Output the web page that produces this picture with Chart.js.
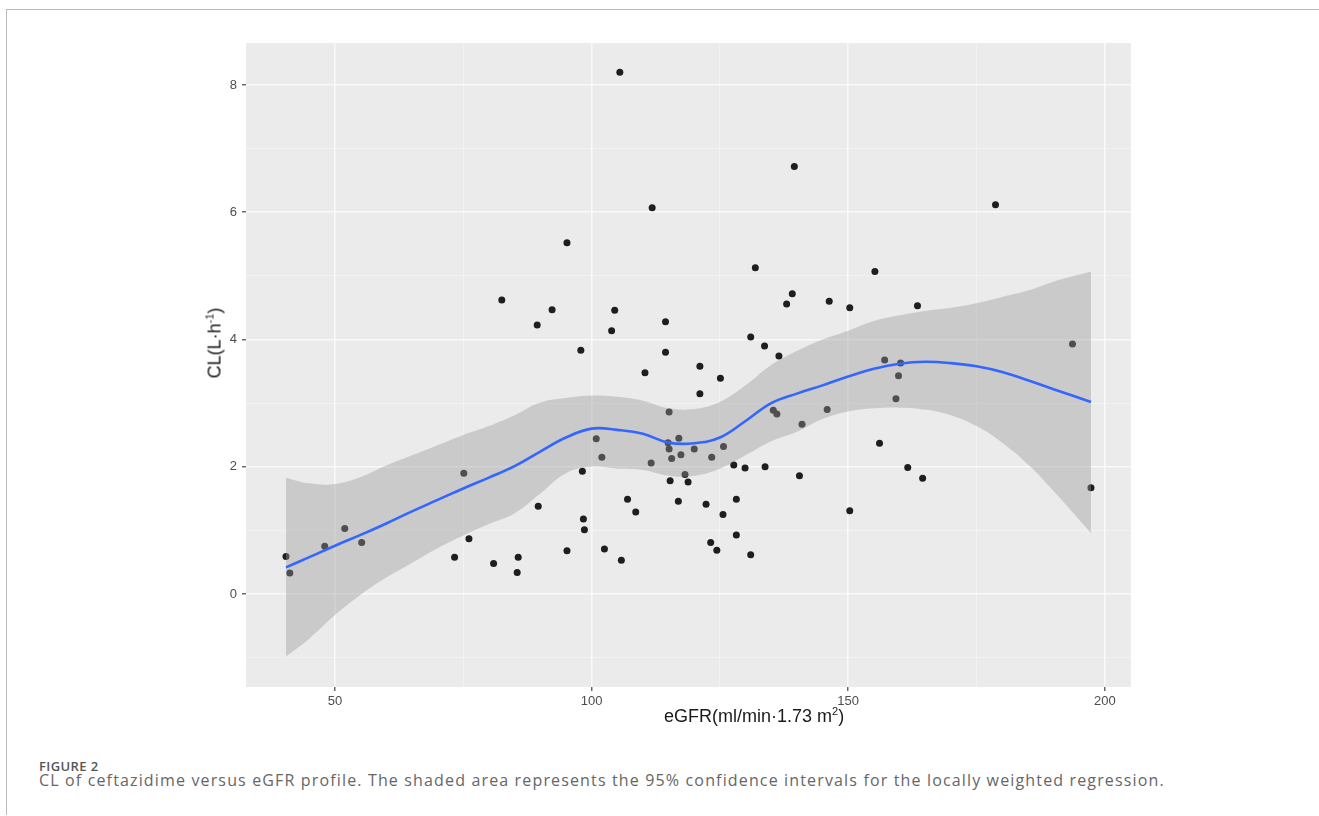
<!DOCTYPE html>
<html>
<head>
<meta charset="utf-8">
<script src="https://cdn.jsdelivr.net/npm/chart.js@4.4.1/dist/chart.umd.min.js"></script>
<style>
  body { margin: 0; background: #fff; width: 1319px; height: 816px; overflow: hidden; position: relative; }
  #frame { position: absolute; left: 6px; top: 9px; width: 1313px; height: 805px; border-top: 1px solid #bbb; border-left: 1px solid #bbb; }
  #wrap { position: absolute; left: 0; top: 0; }
  .axis-title { position: absolute; font-family: "Liberation Sans", Arial, sans-serif; font-size: 18px; color: #1a1a1a; white-space: nowrap; }
  #xtitle { left: 664px; top: 706px; }
  #ytitle { left: 215px; top: 343px; transform: translate(-50%, -50%) rotate(-90deg); }
  .axis-title sup { font-size: 11px; vertical-align: 7px; line-height: 0; }
  #figlabel { position: absolute; left: 39px; top: 757px; font-family: "Open Sans", sans-serif; font-weight: 600; font-size: 13px; letter-spacing: 0.4px; color: #555; }
  #caption { position: absolute; left: 39px; top: 769px; font-family: "Open Sans", sans-serif; font-size: 16px; letter-spacing: 1.15px; color: #666; white-space: nowrap; }
</style>
</head>
<body>
<div id="frame"></div>
<div id="wrap"><canvas id="my-chart" width="1319" height="740"></canvas></div>
<div class="axis-title" id="xtitle">eGFR(ml/min·1.73 m<sup>2</sup>)</div>
<div class="axis-title" id="ytitle">CL(L·h<sup>-1</sup>)</div>
<div id="figlabel">FIGURE 2</div>
<div id="caption">CL of ceftazidime versus eGFR profile. The shaded area represents the 95% confidence intervals for the locally weighted regression.</div>
<script>
// observed patients
const egfr = [40.45, 41.2, 48.0, 51.9, 55.2, 73.3, 75.1, 76.1, 80.9, 85.5, 85.7, 89.6,
  82.5, 89.4, 92.3, 95.2, 95.2, 97.9, 98.2, 98.4, 98.6, 100.9, 102.0, 102.5,
  103.9, 104.5, 105.5, 105.8, 107.0, 108.6, 110.4, 111.6, 111.8, 114.4, 114.4, 114.9,
  115.1, 115.1, 115.3, 115.6, 116.9, 117.0, 117.4, 118.2, 118.8, 120.0, 121.1, 121.1,
  122.3, 123.2, 123.4, 124.4, 125.1, 125.6, 125.7, 127.7, 128.2, 128.2, 129.9, 131.0,
  131.0, 131.9, 133.7, 133.8, 135.4, 136.1, 136.5, 138.0, 139.1, 139.5, 140.5, 141.0,
  145.9, 146.3, 150.3, 150.3, 155.2, 156.1, 157.1, 159.3, 159.8, 160.2, 161.6, 163.5,
  164.5, 178.7, 193.7, 197.3];
const clValues = [0.59, 0.33, 0.75, 1.03, 0.81, 0.58, 1.90, 0.87, 0.48, 0.34, 0.58, 1.38,
  4.62, 4.23, 4.47, 5.52, 0.68, 3.83, 1.93, 1.18, 1.01, 2.44, 2.15, 0.71,
  4.14, 4.46, 8.20, 0.53, 1.49, 1.29, 3.48, 2.06, 6.07, 4.28, 3.80, 2.38,
  2.86, 2.28, 1.78, 2.13, 1.46, 2.45, 2.19, 1.88, 1.76, 2.28, 3.58, 3.15,
  1.41, 0.81, 2.15, 0.69, 3.39, 1.25, 2.32, 2.03, 1.49, 0.93, 1.98, 4.04,
  0.62, 5.13, 3.90, 2.00, 2.89, 2.83, 3.74, 4.56, 4.72, 6.72, 1.86, 2.67,
  2.90, 4.60, 4.50, 1.31, 5.07, 2.37, 3.68, 3.07, 3.43, 3.63, 1.99, 4.53,
  1.82, 6.12, 3.93, 1.67];

// loess fit and 95% band
const fitX = [40.45, 45, 50, 55, 60, 65, 70, 75, 80, 85, 90, 95, 100, 105, 110, 115, 120,
  125, 130, 135, 140, 145, 150, 155, 160, 165, 170, 175, 180, 185, 190, 197.3];
const fitY = [0.42, 0.58, 0.76, 0.93, 1.11, 1.30, 1.48, 1.66, 1.83, 2.01, 2.24, 2.46, 2.60,
  2.58, 2.52, 2.38, 2.37, 2.46, 2.72, 3.00, 3.15, 3.28, 3.42, 3.54, 3.62, 3.65, 3.63, 3.58,
  3.49, 3.36, 3.22, 3.02];
const bandHi = [1.83, 1.74, 1.73, 1.84, 2.02, 2.18, 2.34, 2.50, 2.64, 2.81, 3.01, 3.08, 3.12,
  3.10, 3.04, 2.92, 2.91, 3.02, 3.28, 3.60, 3.82, 4.00, 4.14, 4.29, 4.38, 4.45, 4.50, 4.57,
  4.67, 4.77, 4.91, 5.07];
const bandLo = [-0.98, -0.70, -0.33, -0.01, 0.26, 0.49, 0.72, 0.92, 1.10, 1.27, 1.58, 1.90, 2.00,
  1.97, 1.95, 1.86, 1.86, 1.97, 2.18, 2.40, 2.55, 2.75, 2.87, 2.92, 2.93, 2.90, 2.81, 2.64,
  2.38, 2.04, 1.62, 0.96];

const xMajor = [50, 100, 150, 200];
const xMinor = [75, 125, 175];
const yMajor = [0, 2, 4, 6, 8];
const yMinor = [-1, 1, 3, 5, 7];

const toXY = (xs, ys) => xs.map((x, i) => ({ x: x, y: ys[i] }));
const isMajor = (list, v) => list.indexOf(v) !== -1;

// grey ggplot panel behind everything
const panelBg = {
  id: "panelBg",
  beforeDraw(chart) {
    const a = chart.chartArea;
    const c = chart.ctx;
    c.save();
    c.fillStyle = "#EBEBEB";
    c.fillRect(a.left, a.top, a.right - a.left, a.bottom - a.top);
    c.restore();
  }
};

function gridOpts(major) {
  return {
    color: (ctx) => isMajor(major, ctx.tick.value) ? "rgba(255,255,255,0.7)" : "rgba(255,255,255,0.45)",
    lineWidth: (ctx) => isMajor(major, ctx.tick.value) ? 1.6 : 0.8,
    tickColor: (ctx) => isMajor(major, ctx.tick.value) ? "#333333" : "rgba(0,0,0,0)",
    tickLength: 4,
    tickWidth: 1.1
  };
}

const tickFont = { family: "'Liberation Sans', Arial, sans-serif", size: 13 };

const ctx = document.getElementById("my-chart").getContext("2d");
const chart = new Chart(ctx, {
  type: "scatter",
  data: {
    datasets: [
      {
        label: "CL",
        data: toXY(egfr, clValues),
        backgroundColor: "#1e1e1e",
        borderWidth: 0,
        pointRadius: 3.5,
        order: 3
      },
      {
        label: "upper",
        type: "line",
        data: toXY(fitX, bandHi),
        borderWidth: 0,
        borderColor: "rgba(0,0,0,0)",
        pointRadius: 0,
        tension: 0.4,
        fill: "+1",
        backgroundColor: "rgba(153,153,153,0.4)",
        order: 2
      },
      {
        label: "lower",
        type: "line",
        data: toXY(fitX, bandLo),
        borderWidth: 0,
        borderColor: "rgba(0,0,0,0)",
        pointRadius: 0,
        tension: 0.4,
        fill: false,
        order: 2
      },
      {
        label: "loess",
        type: "line",
        data: toXY(fitX, fitY),
        borderColor: "#3366FF",
        borderWidth: 2.6,
        pointRadius: 0,
        tension: 0.4,
        fill: false,
        order: 1
      }
    ]
  },
  options: {
    responsive: false,
    animation: false,
    layout: { padding: { left: 150, top: 43, right: 188, bottom: 0 } },
    plugins: { legend: { display: false }, tooltip: { enabled: false } },
    scales: {
      x: {
        type: "linear",
        min: 32.66,
        max: 205.1,
        afterBuildTicks: (s) => { s.ticks = xMajor.concat(xMinor).map((v) => ({ value: v })); },
        afterFit: (s) => { s.height = 53; },
        border: { display: false },
        grid: gridOpts(xMajor),
        ticks: {
          color: "#4D4D4D",
          font: tickFont,
          padding: 3,
          maxRotation: 0,
          callback: (v) => isMajor(xMajor, v) ? String(v) : ""
        }
      },
      y: {
        type: "linear",
        min: -1.46,
        max: 8.66,
        afterBuildTicks: (s) => { s.ticks = yMinor.concat(yMajor).sort((a, b) => a - b).map((v) => ({ value: v })); },
        afterFit: (s) => { s.width = 96; },
        border: { display: false },
        grid: gridOpts(yMajor),
        ticks: {
          color: "#4D4D4D",
          font: tickFont,
          padding: 5,
          callback: (v) => isMajor(yMajor, v) ? String(v) : ""
        }
      }
    }
  },
  plugins: [panelBg]
});
</script>
</body>
</html>
